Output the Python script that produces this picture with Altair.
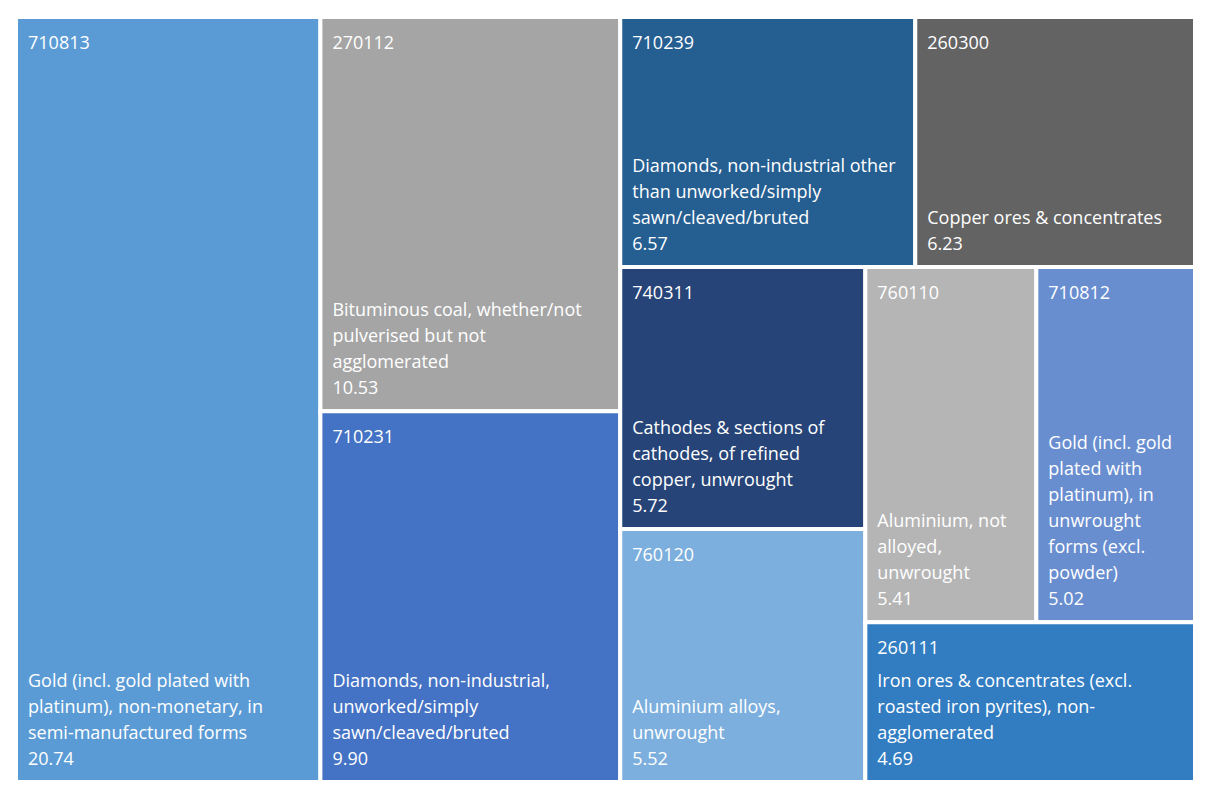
import altair as alt
import pandas as pd

# ---- data ----
codes = ["710813", "270112", "710231", "710239", "260300",
         "740311", "760120", "760110", "710812", "260111"]
values = [20.74, 10.53, 9.90, 6.57, 6.23, 5.72, 5.52, 5.41, 5.02, 4.69]
descriptions = [
    "Gold (incl. gold plated with\nplatinum), non-monetary, in\nsemi-manufactured forms",
    "Bituminous coal, whether/not\npulverised but not\nagglomerated",
    "Diamonds, non-industrial,\nunworked/simply\nsawn/cleaved/bruted",
    "Diamonds, non-industrial other\nthan unworked/simply\nsawn/cleaved/bruted",
    "Copper ores & concentrates",
    "Cathodes & sections of\ncathodes, of refined\ncopper, unwrought",
    "Aluminium alloys,\nunwrought",
    "Aluminium, not\nalloyed,\nunwrought",
    "Gold (incl. gold\nplated with\nplatinum), in\nunwrought\nforms (excl.\npowder)",
    "Iron ores & concentrates (excl.\nroasted iron pyrites), non-\nagglomerated",
]
colors = ["#5B9BD5", "#A5A5A5", "#4472C4", "#255E91", "#636363",
          "#264478", "#7CAFDD", "#B5B5B5", "#698ED0", "#327DC2"]

# ---- squarified treemap layout in a normalised space ----
LAYOUT_ASPECT = 1.95  # width/height of the layout space


def worst(row, side):
    s = sum(row)
    return max(max(side * side * r / (s * s), (s * s) / (side * side * r)) for r in row)


def squarify(areas, w, h):
    x, y = 0.0, 0.0
    out = []
    i = 0
    while i < len(areas):
        side = min(w, h)
        row = [areas[i]]
        j = i + 1
        while j < len(areas) and worst(row + [areas[j]], side) <= worst(row, side):
            row.append(areas[j])
            j += 1
        s = sum(row)
        if w >= h:
            cw = s / h
            yy = y
            for a in row:
                rh = a / cw
                out.append((x, yy, x + cw, yy + rh))
                yy += rh
            x += cw
            w -= cw
        else:
            rh = s / w
            xx = x
            for a in row:
                rw = a / rh
                out.append((xx, y, xx + rw, y + rh))
                xx += rw
            y += rh
            h -= rh
        i = j
    return out


total = sum(values)
areas = [v / total * LAYOUT_ASPECT for v in values]
rects = squarify(areas, LAYOUT_ASPECT, 1.0)

df = pd.DataFrame({
    "code": codes,
    "value": values,
    "x0": [r[0] for r in rects],
    "y0": [r[1] for r in rects],
    "x1": [r[2] for r in rects],
    "y1": [r[3] for r in rects],
})

W, H = 1179, 765
LINE = 26  # line spacing of the labels, px

# one row per label line, stacked upward from the bottom of each cell
line_rows = []
for (code, v, r, d) in zip(codes, values, rects, descriptions):
    lines = d.split("\n") + [f"{v:.2f}"]
    n = len(lines)
    for i, t in enumerate(lines):
        k = n - 1 - i
        line_rows.append({"code": code, "x0": r[0], "ly": r[3] - k * LINE / H, "line": t})
lines_df = pd.DataFrame(line_rows)

xs = alt.Scale(domain=[0, LAYOUT_ASPECT], range=[0, W], nice=False, zero=False)
ys = alt.Scale(domain=[0, 1], range=[0, H], nice=False, zero=False)

cells = alt.Chart(df).mark_rect(stroke="white", strokeWidth=4).encode(
    x=alt.X("x0:Q", scale=xs, axis=None),
    x2="x1:Q",
    y=alt.Y("y0:Q", scale=ys, axis=None),
    y2="y1:Q",
    color=alt.Color("code:N", scale=alt.Scale(domain=codes, range=colors), legend=None),
)

code_text = alt.Chart(df).mark_text(
    align="left", baseline="alphabetic", dx=12, dy=32,
    font="Open Sans", fontSize=18, color="white",
).encode(
    x=alt.X("x0:Q", scale=xs, axis=None),
    y=alt.Y("y0:Q", scale=ys, axis=None),
    text="code:N",
)

label_text = alt.Chart(lines_df).mark_text(
    align="left", baseline="alphabetic", dx=12, dy=-17,
    font="Open Sans", fontSize=18, color="white",
).encode(
    x=alt.X("x0:Q", scale=xs, axis=None),
    y=alt.Y("ly:Q", scale=ys, axis=None),
    text="line:N",
)

chart = alt.layer(cells, code_text, label_text).properties(
    width=W, height=H,
    padding={"left": 8, "top": 9, "right": 0, "bottom": 0},
    autosize=alt.AutoSizeParams(type="none"),
    background="white",
).configure_view(stroke=None)

chart.save("out.html", embed_options={"renderer": "svg", "actions": False})
